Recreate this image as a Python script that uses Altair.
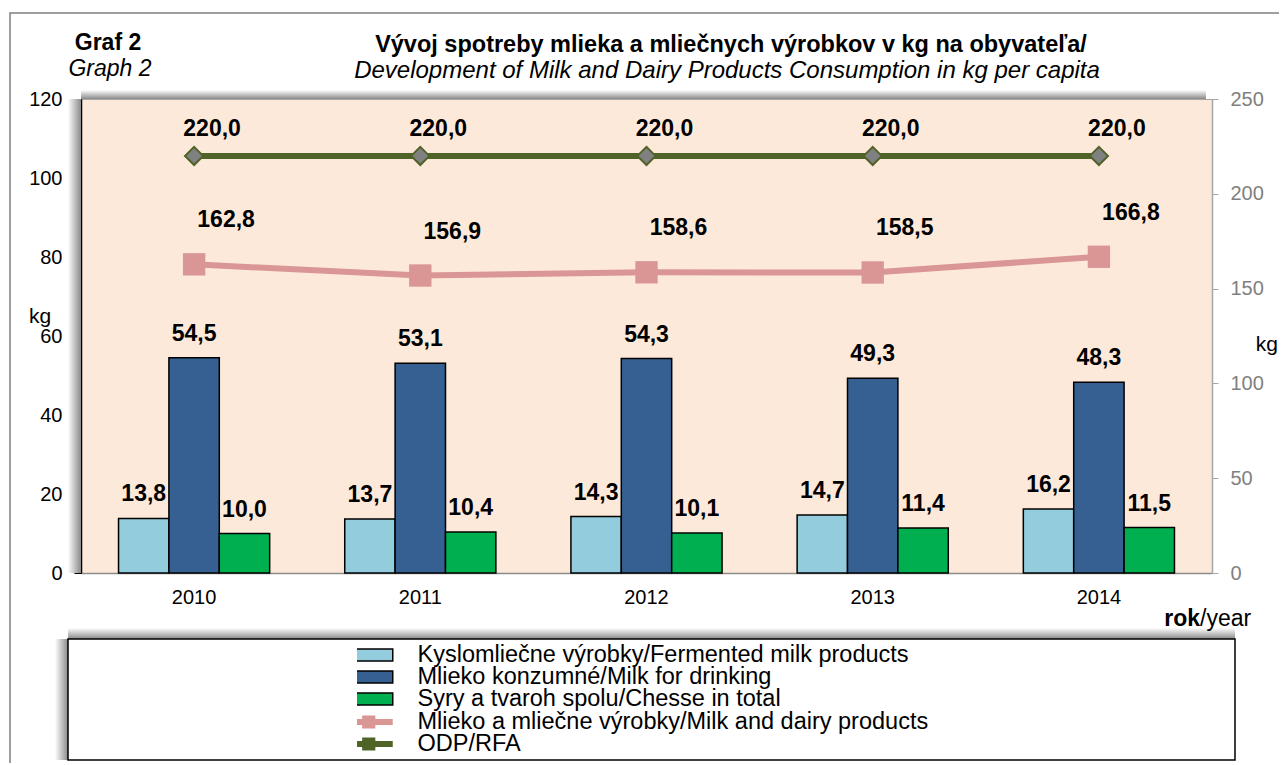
import altair as alt
import pandas as pd

years = ["2010", "2011", "2012", "2013", "2014"]
bar_series = [
    "Kyslomliečne výrobky/Fermented milk products",
    "Mlieko konzumné/Milk for drinking",
    "Syry a tvaroh spolu/Chesse in total",
]
fermented = [13.8, 13.7, 14.3, 14.7, 16.2]
milk_drinking = [54.5, 53.1, 54.3, 49.3, 48.3]
cheese = [10.0, 10.4, 10.1, 11.4, 11.5]

line_series = ["Mlieko a mliečne výrobky/Milk and dairy products", "ODP/RFA"]
dairy_total = [162.8, 156.9, 158.6, 158.5, 166.8]
rfa = [220.0, 220.0, 220.0, 220.0, 220.0]

left_ticks = [0, 20, 40, 60, 80, 100, 120]
right_ticks = [0, 50, 100, 150, 200, 250]

bar_colors = ["#93CDDD", "#376092", "#00B050"]
line_colors = ["#D99694", "#4F6228"]

FONT = "Liberation Sans"
W, H = 1131, 474

rows = []
for s, vals in zip(bar_series, [fermented, milk_drinking, cheese]):
    for y, v in zip(years, vals):
        rows.append({"year": y, "series": s, "value": v})
bar_df = pd.DataFrame(rows)

rows = []
for s, vals in zip(line_series, [dairy_total, rfa]):
    for y, v in zip(years, vals):
        rows.append({"year": y, "series": s, "value": v})
line_df = pd.DataFrame(rows)

one = pd.DataFrame({"a": [0]})
label_expr = "replace(format(datum.value, '.1f'), '.', ',')"

x_axis = alt.Axis(
    title=None, labelAngle=0, labelFontSize=20, labelFont=FONT, labelColor="black",
    ticks=False, domainColor="#8c8c8c", domainWidth=1.5, labelPadding=14, grid=False,
)
x_enc = alt.X("year:N", sort=years, scale=alt.Scale(domain=years, paddingInner=0, paddingOuter=0), axis=x_axis)
xoff = alt.XOffset("series:N", scale=alt.Scale(domain=bar_series, paddingOuter=0.745, paddingInner=0))

y_left = alt.Y(
    "value:Q",
    scale=alt.Scale(domain=[0, 120], nice=False),
    axis=alt.Axis(
        orient="left", values=left_ticks, title=None, labelFontSize=20, labelFont=FONT,
        labelColor="black", domainColor="black", domainWidth=1.5, tickColor="black",
        tickSize=7, labelPadding=12, grid=False,
    ),
)
y_left_plain = alt.Y("value:Q", scale=alt.Scale(domain=[0, 120], nice=False), axis=None)
y_right = alt.Y(
    "value:Q",
    scale=alt.Scale(domain=[0, 250], nice=False),
    axis=alt.Axis(
        orient="right", values=right_ticks, title=None, labelFontSize=20, labelFont=FONT,
        labelColor="#808080", domainColor="#A6A6A6", domainWidth=1.5, tickColor="#A6A6A6",
        tickSize=6, labelPadding=12, grid=False,
    ),
)
y_right_plain = alt.Y("value:Q", scale=alt.Scale(domain=[0, 250], nice=False), axis=None)


def grad(vertical, c1, c2):
    return alt.LinearGradient(
        gradient="linear",
        stops=[alt.GradientStop(color=c1, offset=0), alt.GradientStop(color=c2, offset=1)],
        x1=0, y1=0, x2=0 if vertical else 1, y2=1 if vertical else 0,
    )


def deco_rect(x, x2, y, y2, **kw):
    return alt.Chart(one).mark_rect(**kw).encode(
        x=alt.value(x), x2=alt.value(x2), y=alt.value(y), y2=alt.value(y2)
    )


frame = deco_rect(-71, 1215, -86, 700, fill=None, stroke="#7f7f7f", strokeWidth=1.5)
shadow_top = deco_rect(0, W - 6, -9, 0, fill=grad(True, "#ffffff", "#8a8a8a"))
shadow_left = deco_rect(-13, 0, 0, H, fill=grad(False, "#ffffff", "#8a8a8a"))
leg_shadow_top = deco_rect(-13, 1154, 529, 540, fill=grad(True, "#ffffff", "#8a8a8a"))
leg_shadow_left = deco_rect(-26, -13, 540, 661, fill=grad(False, "#ffffff", "#8a8a8a"))
leg_box = deco_rect(-13, 1154, 540, 661, fill="white", stroke="black", strokeWidth=1.5)

LEG_FS = 23.5
bar_legend = alt.Legend(
    orient="none", legendX=276, legendY=546, title=None,
    symbolType="M-3,-0.75H3V0.75H-3Z", symbolSize=256,
    symbolStrokeColor="black", symbolStrokeWidth=1.5,
    labelFont=FONT, labelFontSize=LEG_FS, labelColor="black", labelOffset=37,
    labelLimit=0, rowPadding=-2, padding=0, clipHeight=20,
)
line_legend = alt.Legend(
    orient="none", legendX=276, legendY=613, title=None,
    symbolType="M-3,0H3M-0.45,-0.45H0.45V0.45H-0.45Z", symbolSize=256,
    symbolStrokeWidth=6,
    labelFont=FONT, labelFontSize=LEG_FS, labelColor="black", labelOffset=37,
    labelLimit=0, rowPadding=-2, padding=0, clipHeight=20,
)

bars = alt.Chart(bar_df).mark_bar(stroke="black", strokeWidth=1.5).encode(
    x=x_enc,
    xOffset=xoff,
    y=y_left,
    fill=alt.Fill("series:N", scale=alt.Scale(domain=bar_series, range=bar_colors), legend=bar_legend),
)

bar_labels = alt.Chart(bar_df).transform_calculate(label=label_expr).mark_text(
    font=FONT, fontSize=23, fontWeight="bold", color="black", baseline="alphabetic", dy=-17
).encode(x=x_enc, xOffset=xoff, y=y_left_plain, text="label:N")

lines = alt.Chart(line_df).mark_line(strokeWidth=6).encode(
    x=x_enc,
    y=y_right,
    stroke=alt.Stroke("series:N", scale=alt.Scale(domain=line_series, range=line_colors), legend=line_legend),
)

pts_pink = alt.Chart(line_df).transform_filter(
    alt.datum.series == line_series[0]
).mark_point(shape="square", size=500, filled=True, color=line_colors[0], opacity=1).encode(
    x=x_enc, y=y_right_plain
)
pts_green = alt.Chart(line_df).transform_filter(
    alt.datum.series == line_series[1]
).mark_point(shape="diamond", size=330, filled=True, fill="#808080", stroke=line_colors[1],
             strokeWidth=2, opacity=1).encode(x=x_enc, y=y_right_plain)

lab_pink = alt.Chart(line_df).transform_filter(
    alt.datum.series == line_series[0]
).transform_calculate(label=label_expr).mark_text(
    font=FONT, fontSize=23, fontWeight="bold", color="black", baseline="alphabetic", dx=32, dy=-37
).encode(x=x_enc, y=y_right_plain, text="label:N")

lab_green = alt.Chart(line_df).transform_filter(
    alt.datum.series == line_series[1]
).transform_calculate(label=label_expr).mark_text(
    font=FONT, fontSize=23, fontWeight="bold", color="black", baseline="alphabetic", dx=18, dy=-20
).encode(x=x_enc, y=y_right_plain, text="label:N")


def txt(text, x, y, size=20, weight="normal", style="normal", align="center"):
    return alt.Chart(pd.DataFrame({"t": [text]})).mark_text(
        font=FONT, fontSize=size, fontWeight=weight, fontStyle=style, align=align,
        baseline="alphabetic", color="black"
    ).encode(x=alt.value(x), y=alt.value(y), text="t:N")


texts = [
    txt("Graf 2", 27, -49, size=23, weight="bold"),
    txt("Graph 2", 29, -23, size=23, style="italic"),
    txt("Vývoj spotreby mlieka a mliečnych výrobkov v kg na obyvateľa/", 650, -47, size=23.5, weight="bold"),
    txt("Development of Milk and Dairy Products Consumption in kg per capita", 646, -21, size=24, style="italic"),
    txt("kg", -41, 224, size=21),
    txt("kg", 1197, 252, size=21, align="right"),
    txt("rok", 1119, 527, size=23, weight="bold", align="right"),
    txt("/year", 1119, 527, size=23, align="left"),
]

chart = alt.layer(
    frame, shadow_top, shadow_left, leg_shadow_left, leg_shadow_top, leg_box,
    bars, bar_labels, lines, pts_pink, pts_green, lab_pink, lab_green, *texts
).resolve_scale(
    y="independent", fill="independent", stroke="independent"
).properties(
    width=W, height=H,
    autosize=alt.AutoSizeParams(type="none"),
    padding={"left": 73, "top": 91, "right": 67, "bottom": 190},
).configure_view(
    fill="#FDE9D9", stroke="#A6A6A6", strokeWidth=1
)

chart.save("out.html", embed_options={"renderer": "svg", "actions": False})
